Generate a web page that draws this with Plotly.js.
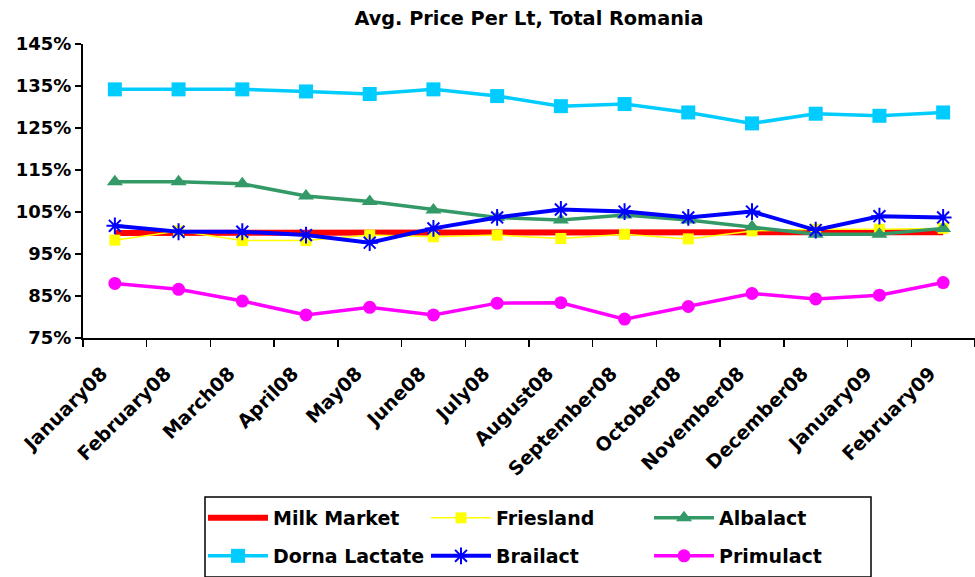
<!DOCTYPE html>
<html>
<head>
<meta charset="utf-8">
<script src="https://cdn.plot.ly/plotly-3.0.1.min.js"></script>
<style>html,body{margin:0;padding:0;background:#fff;}#chart{width:975px;height:577px;}</style>
</head>
<body>
<div id="chart"></div>
<script>
const months = ["January08","February08","March08","April08","May08","June08","July08","August08","September08","October08","November08","December08","January09","February09"];
const milkMarket   = [100,100,100,100,100,100,100,100,100,100,100,100,100,100.2];
const friesland    = [98.3,100.5,98.2,98.2,99.5,99.1,99.5,98.7,99.7,98.6,100.5,100.9,100.9,101.1];
const albalact     = [112.2,112.2,111.7,108.8,107.5,105.5,103.7,103.1,104.3,103.1,101.5,99.7,99.7,101.1];
const dornaLactate = [134.2,134.2,134.2,133.7,133.1,134.2,132.6,130.2,130.7,128.7,126.1,128.4,127.9,128.7];
const brailact     = [101.7,100.3,100.3,99.5,97.7,101.1,103.7,105.6,105.1,103.7,105.1,100.7,104.0,103.7];
const primulact    = [88.0,86.6,83.8,80.5,82.3,80.5,83.3,83.4,79.5,82.5,85.6,84.3,85.2,88.2];

const FONT = "DejaVu Sans";
const traces = [
  {name:"Milk Market", y:milkMarket, legend:"legend", line:{color:"#FF0000", width:6}, mode:"lines"},
  {name:"Friesland", y:friesland, legend:"legend", line:{color:"#FFFF00", width:1.5}, mode:"lines+markers", marker:{symbol:"square", size:11, color:"#FFFF00"}},
  {name:"Albalact", y:albalact, legend:"legend", line:{color:"#339966", width:3.5}, mode:"lines+markers", marker:{symbol:"triangle-up", size:14, color:"#339966"}},
  {name:"Dorna Lactate", y:dornaLactate, legend:"legend2", line:{color:"#00CCFF", width:3.5}, mode:"lines+markers", marker:{symbol:"square", size:14, color:"#00CCFF"}},
  {name:"Brailact", y:brailact, legend:"legend2", line:{color:"#0000FF", width:4}, mode:"lines+markers", marker:{symbol:"asterisk-open", size:14, color:"#0000FF", line:{color:"#0000FF", width:2}}},
  {name:"Primulact", y:primulact, legend:"legend2", line:{color:"#FF00FF", width:3.5}, mode:"lines+markers", marker:{symbol:"circle", size:13, color:"#FF00FF"}}
].map(t => Object.assign({type:"scatter", x:months}, t));

const L = 83, R = 0, T = 44, B = 239;
const W = 975, H = 577;
const pw = W - L - R, ph = H - T - B;
const px = v => (v - L) / pw;
const py = v => (H - B - v) / ph;

const legendCommon = {
  orientation:"h", xanchor:"left", yanchor:"middle",
  font:{family:FONT, size:19, weight:"bold", color:"#000"},
  bgcolor:"rgba(0,0,0,0)", borderwidth:0,
  itemwidth:60, entrywidth:148, entrywidthmode:"pixels",
  traceorder:"normal"
};

const layout = {
  width:W, height:H,
  margin:{l:L, r:R, t:T, b:B, pad:0},
  paper_bgcolor:"#fff", plot_bgcolor:"#fff",
  showlegend:true,
  title:{text:"Avg. Price Per Lt, Total Romania", font:{family:FONT, size:19.3, weight:"bold", color:"#000"}, x:0.5, xref:"paper", xanchor:"center", y:1-18/H, yanchor:"middle"},
  xaxis:{type:"category", range:[-0.5,13.5], tickson:"boundaries", ticks:"outside", ticklen:7, tickwidth:1.5, tickcolor:"#000",
         showline:true, linecolor:"#000", linewidth:2, showgrid:false, zeroline:false, tickangle:-45,
         ticklabelstandoff:15, ticklabelshift:-13,
         tickfont:{family:FONT, size:19, weight:"bold", color:"#000"}},
  yaxis:{range:[75,145], dtick:10, tick0:75, ticksuffix:"%", ticks:"outside", ticklen:6, tickwidth:1.5, tickcolor:"#000",
         showline:true, linecolor:"#000", linewidth:2, showgrid:false, zeroline:false,
         tickfont:{family:FONT, size:18, weight:"bold", color:"#000"}},
  legend:Object.assign({}, legendCommon, {x:px(203), y:py(518)}),
  legend2:Object.assign({}, legendCommon, {x:px(203), y:py(556)}),
  shapes:[{type:"rect", xref:"paper", yref:"paper", x0:px(205), x1:px(871), y0:py(497), y1:py(577), line:{color:"#000", width:1.5}, fillcolor:"rgba(0,0,0,0)"}]
};

Plotly.newPlot("chart", traces, layout, {displayModeBar:false, staticPlot:true});
</script>
</body>
</html>
